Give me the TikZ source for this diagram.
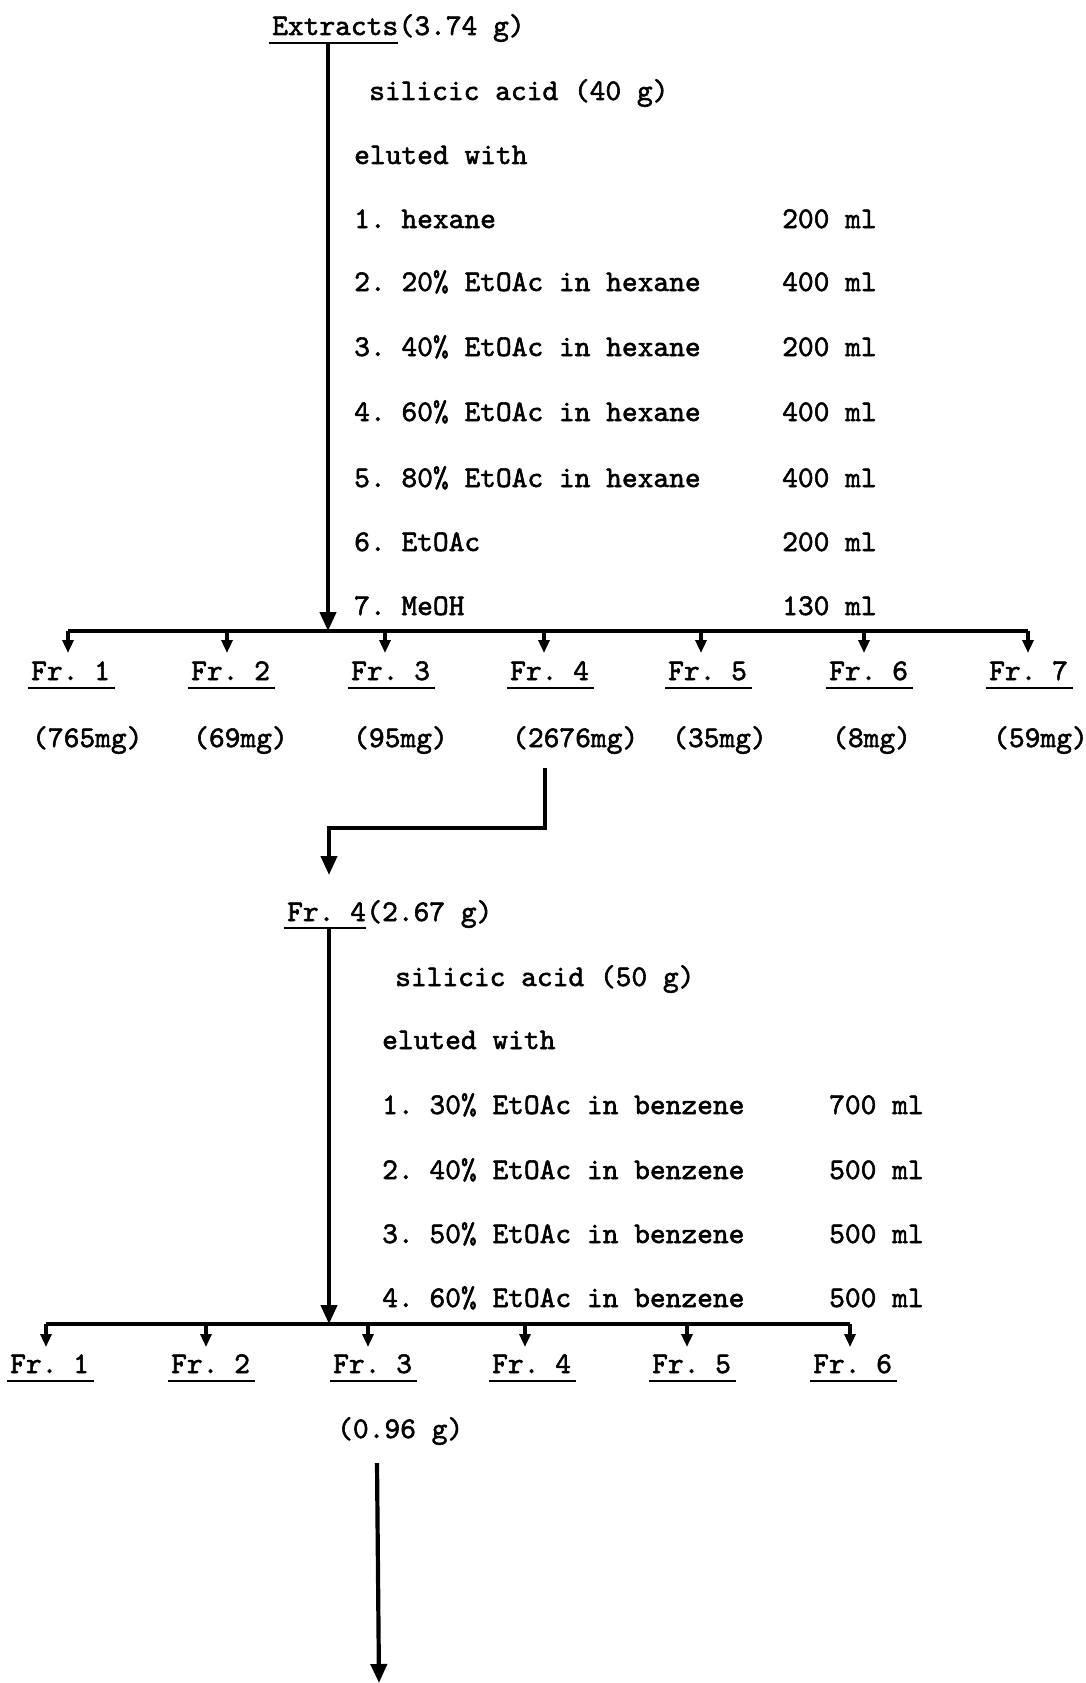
\documentclass[tikz,border=0pt]{standalone}
\usepackage{fontspec}
\newfontfamily\tw{lmmono10-regular}[Extension=.otf, FakeBold=1.8]
\usetikzlibrary{arrows.meta}
\begin{document}
\frenchspacing
\begin{tikzpicture}[x=1pt,y=-1pt,
  font=\tw\fontsize{30}{34}\selectfont\frenchspacing,
  txt/.style={anchor=base west, inner sep=0pt},
  ln/.style={line width=4pt},
  ul/.style={line width=2.8pt},
  br/.style={line width=3.5pt, -{Triangle[width=11pt,length=13pt]}},
  mainarrow/.style={line width=4.2pt, -{Triangle[width=16pt,length=19pt]}}]
\useasboundingbox (0,0) rectangle (1086,1683);

% ---------- first column ----------
\node[txt] (ext) at (272,35) {Extracts};
\node[txt] (extw) at (ext.base east) {(3.74 g)};
\draw[ul] ([xshift=-3pt,yshift=-8pt]ext.base west) -- ([xshift=0pt,yshift=-8pt]ext.base east);
\coordinate (u1) at (328,43);
\coordinate (j1) at (328,631);

\node[txt] (sa1) at (369,100) {silicic acid (40 g)};
\node[txt] (ew1) at (354,164) {eluted with};
\foreach \i/\t/\v/\y in {1/hexane/200/228, 2/20\% EtOAc in hexane/400/291, 3/40\% EtOAc in hexane/200/356, 4/60\% EtOAc in hexane/400/421, 5/80\% EtOAc in hexane/400/487, 6/EtOAc/200/551, 7/MeOH/130/615} {
  \node[txt] (s\i) at (354,\y) {\i. \t};
  \node[txt] (v\i) at (782,\y) {\v{} ml};
}

\draw[mainarrow] (u1) -- (j1);

\foreach \i/\x/\bx in {1/31/68, 2/191/227, 3/351/385, 4/510/544, 5/668/701, 6/829/864, 7/989/1028} {
  \node[txt] (fa\i) at (\x,680) {Fr. \i};
  \draw[ul] ([xshift=-3pt,yshift=-8pt]fa\i.base west) -- ([xshift=5pt,yshift=-8pt]fa\i.base east);
  \coordinate (ba\i) at (\bx,631);
  \coordinate (ta\i) at (\bx,653);
  \draw[br] (ba\i) -- (ta\i);
}
\draw[ln] (ba1) -- (ba7);

\foreach \i/\t/\x in {1/765mg/32, 2/69mg/193, 3/95mg/353, 4/2676mg/512, 5/35mg/672, 6/8mg/832, 7/59mg/993} {
  \node[txt] (am\i) at (\x,747) {(\t)};
}

% ---------- connector to second column ----------
\coordinate (c1) at (545,768);
\coordinate (c2) at (545,828);
\coordinate (c3) at (329,828);
\node[txt] (fr4) at (287,921) {Fr. 4};
\node[txt] (fr4w) at (fr4.base east) {(2.67 g)};
\coordinate (c4) at (329,875);
\draw[line width=4pt, -{Triangle[width=16pt,length=19pt]}] (c1) -- (c2) -- (c3) -- (c4);
\draw[ul] ([xshift=-3pt,yshift=-7pt]fr4.base west) -- ([xshift=0pt,yshift=-7pt]fr4.base east);

% ---------- second column ----------
\coordinate (u2) at (329,929);
\coordinate (j2) at (329,1324);
\node[txt] (sa2) at (395,986) {silicic acid (50 g)};
\node[txt] (ew2) at (382,1049) {eluted with};
\foreach \i/\t/\v/\y in {1/30/700/1114, 2/40/500/1179, 3/50/500/1243, 4/60/500/1307} {
  \node[txt] (r\i) at (382,\y) {\i. \t\% EtOAc in benzene};
  \node[txt] (w\i) at (829,\y) {\v{} ml};
}
\draw[mainarrow] (u2) -- (j2);

\foreach \i/\x/\bx in {1/10/46, 2/171/206, 3/333/368, 4/492/525, 5/652/687, 6/813/850} {
  \node[txt] (fb\i) at (\x,1373) {Fr. \i};
  \draw[ul] ([xshift=-3pt,yshift=-8pt]fb\i.base west) -- ([xshift=5pt,yshift=-8pt]fb\i.base east);
  \coordinate (bb\i) at (\bx,1324);
  \coordinate (tb\i) at (\bx,1347);
  \draw[br] (bb\i) -- (tb\i);
}
\draw[ln] (bb1) -- (bb6);

\node[txt] (g3) at (337,1438) {(0.96 g)};
\coordinate (e1) at (377,1463);
\coordinate (e2) at (379,1683);
\draw[mainarrow] (e1) -- (e2);
\end{tikzpicture}
\end{document}
